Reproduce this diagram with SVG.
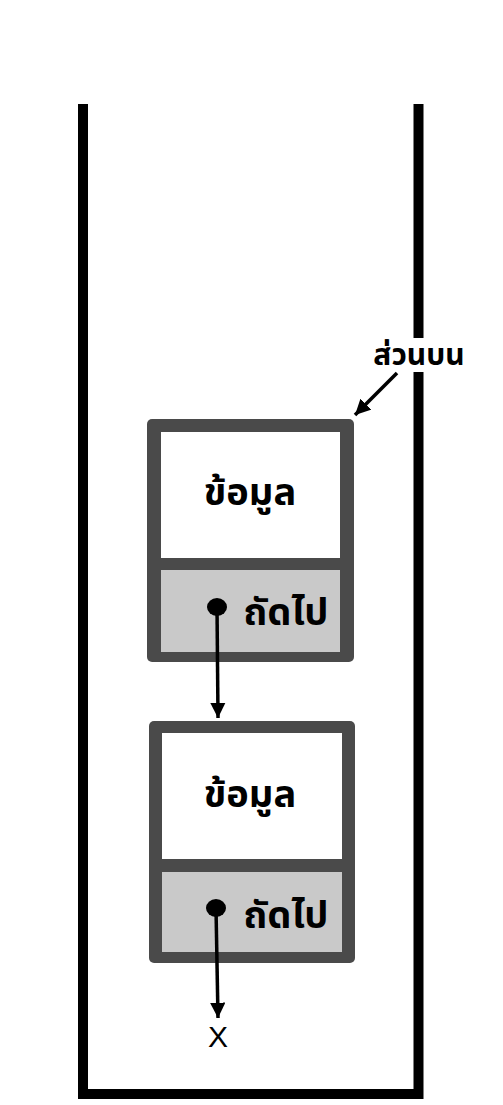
<svg xmlns="http://www.w3.org/2000/svg" width="503" height="1105" viewBox="0 0 503 1105">
<style>
.wall{stroke:#000;stroke-width:10;fill:none}
.frame{fill:#4a4a4a}
.data{fill:#fff}
.next{fill:#c9c9c9}
.lbl{font-family:"Noto Sans Thai","Noto Sans","DejaVu Sans",sans-serif;font-weight:bold;fill:#000}
.big{font-size:38px;text-anchor:middle}
.conn{stroke:#000;stroke-width:3.5;fill:none}
</style>
<defs>
<marker id="ah" viewBox="0 0 10 10" refX="10" refY="5" markerWidth="4.4" markerHeight="4.4" orient="auto" markerUnits="strokeWidth">
<path d="M0,0 L10,5 L0,10 z" fill="#000"/>
</marker>
</defs>
<rect width="503" height="1105" fill="#fff"/>
<g id="stack">
<path class="wall" d="M83,104 V1094 H418.5 V104"/>
<rect x="405" y="338" width="30" height="34" fill="#fff"/>
</g>
<g id="node1">
<rect class="frame" x="147" y="419" width="207" height="243" rx="5"/>
<rect class="data" x="161" y="432" width="179" height="126"/>
<rect class="next" x="161" y="570" width="179" height="82"/>
<text class="lbl big" x="250" y="505">ข้อมูล</text>
<text class="lbl big" x="286" y="625">ถัดไป</text>
<ellipse cx="217" cy="607" rx="10" ry="9" fill="#000"/>
</g>
<g id="node2">
<rect class="frame" x="149" y="721" width="206" height="242" rx="5"/>
<rect class="data" x="162" y="733" width="180" height="126"/>
<rect class="next" x="162" y="872" width="180" height="80"/>
<text class="lbl big" x="250" y="807">ข้อมูล</text>
<text class="lbl big" x="286" y="928">ถัดไป</text>
<ellipse cx="216" cy="908" rx="10" ry="9" fill="#000"/>
</g>
<g id="top-label">
<text class="lbl" x="419" y="365" font-size="30" text-anchor="middle">ส่วนบน</text>
</g>
<g id="null-label">
<text x="218" y="1047" font-family="Liberation Sans,Arial,sans-serif" font-size="30" text-anchor="middle" fill="#000">X</text>
</g>
<g id="connectors">
<line class="conn" x1="397" y1="373" x2="355" y2="415" marker-end="url(#ah)"/>
<line class="conn" x1="217" y1="607" x2="218" y2="718" marker-end="url(#ah)"/>
<line class="conn" x1="216" y1="908" x2="218" y2="1018" marker-end="url(#ah)"/>
</g>
</svg>
